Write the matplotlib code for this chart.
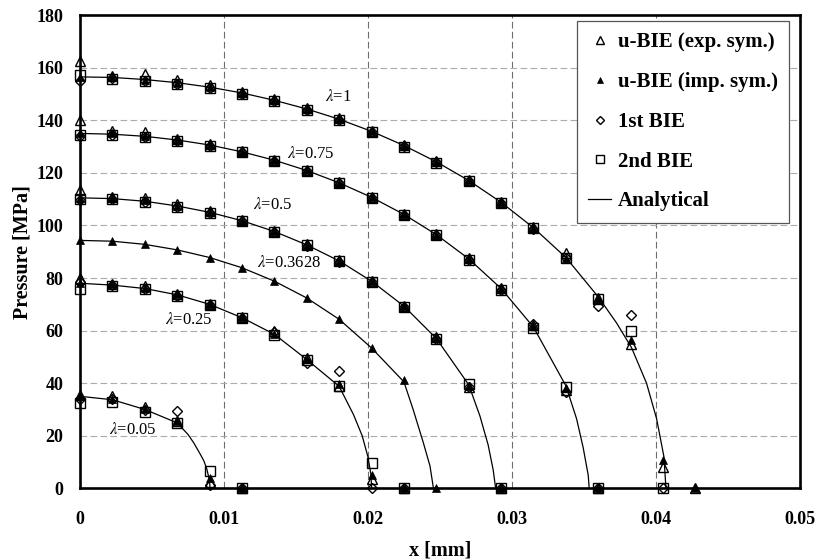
import numpy as np
import matplotlib
matplotlib.use("Agg")
import matplotlib.pyplot as plt
from matplotlib.lines import Line2D


# boundary nodes along the contact (mm)
X_NODES = [0.0, 0.00225, 0.0045, 0.00675, 0.009, 0.01125, 0.0135, 0.01575,
           0.018, 0.02025, 0.0225, 0.02475, 0.027, 0.02925, 0.0315, 0.03375,
           0.036, 0.03825, 0.0405, 0.04275]

# lambda = 1
EXP_L1 = [162.5, 157.0, 157.5, 155.5, 153.3, 150.8, 148.0, 144.6, 140.7, 136.0,
          130.6, 124.4, 117.3, 109.0, 99.5, 89.5, 72.5, 55.0, 8.0, 0.0]
IMP_L1 = [156.5, 156.3, 155.5, 154.3, 152.6, 150.4, 147.6, 144.3, 140.4, 135.8,
          130.4, 124.2, 117.1, 108.8, 99.1, 87.8, 72.5, 56.5, 10.8, 0.0]
BIE1_L1 = [154.8, 156.0, 155.0, 153.8, 152.2, 150.0, 147.3, 144.0, 140.2, 135.6,
           130.2, 124.0, 116.9, 108.5, 98.8, 87.5, 69.5, 66.0, 0.0]
BIE2_L1 = [157.2, 155.8, 155.0, 153.8, 152.2, 150.0, 147.2, 143.9, 140.0, 135.4,
           130.0, 123.8, 116.8, 108.6, 98.9, 87.6, 72.0, 60.0, 0.0]
AN_X_L1 = [0.0, 0.00225, 0.0045, 0.00675, 0.009, 0.01125, 0.0135, 0.01575, 0.018,
           0.02025, 0.0225, 0.02475, 0.027, 0.02925, 0.0315, 0.03375, 0.036,
           0.03727, 0.03831, 0.03935, 0.04005, 0.04056, 0.0407]
AN_P_L1 = [156.5, 156.3, 155.5, 154.3, 152.6, 150.4, 147.6, 144.3, 140.4, 135.8,
           130.4, 124.2, 117.1, 108.8, 99.1, 87.8, 72.8, 62.9, 53.5, 40.0, 26.5,
           12.0, 0.0]

# lambda = 0.75
EXP_L075 = [140.0, 136.0, 135.5, 133.0, 131.0, 128.3, 125.0, 121.2, 116.5,
            111.0, 104.4, 96.7, 87.6, 76.3, 62.0, 37.5, 0.0]
IMP_L075 = [135.0, 135.2, 134.2, 132.6, 130.6, 128.0, 124.8, 120.9, 116.2,
            110.7, 104.2, 96.5, 87.3, 76.0, 61.6, 38.0, 0.0]
BIE1_L075 = [134.0, 134.5, 133.5, 132.2, 130.4, 127.8, 124.6, 120.7, 116.0,
             110.5, 104.0, 96.3, 87.0, 75.5, 62.5, 36.5, 0.0]
BIE2_L075 = [134.5, 134.4, 133.6, 132.3, 130.4, 127.8, 124.6, 120.7, 116.0,
             110.5, 104.0, 96.3, 87.0, 75.6, 61.0, 38.5, 0.0]
AN_X_L075 = [0.0, 0.00225, 0.0045, 0.00675, 0.009, 0.01125, 0.0135, 0.01575,
             0.018, 0.02025, 0.0225, 0.02475, 0.027, 0.02925, 0.0315, 0.03375,
             0.03449, 0.03495, 0.0353, 0.03537]
AN_P_L075 = [135.0, 134.7, 133.9, 132.5, 130.6, 128.0, 124.8, 120.9, 116.2,
             110.7, 104.2, 96.5, 87.3, 76.0, 61.3, 39.0, 26.5, 15.5, 5.0, 0.0]

# lambda = 0.5
EXP_L05 = [113.5, 111.0, 110.5, 108.0, 105.3, 102.0, 98.0, 92.8, 86.8, 79.0,
           69.5, 57.5, 38.5, 0.0]
IMP_L05 = [110.5, 110.5, 109.5, 107.4, 105.0, 101.8, 97.7, 92.6, 86.5, 78.8,
           69.3, 57.1, 39.0, 0.0]
BIE1_L05 = [109.5, 110.0, 109.0, 107.0, 104.7, 101.5, 97.4, 92.3, 86.2, 78.5,
            69.0, 56.8, 38.5, 0.0]
BIE2_L05 = [110.0, 110.0, 109.0, 107.2, 104.8, 101.6, 97.5, 92.4, 86.3, 78.6,
            69.1, 56.9, 39.5, 0.0]
AN_X_L05 = [0.0, 0.00225, 0.0045, 0.00675, 0.009, 0.01125, 0.0135, 0.01575,
            0.018, 0.02025, 0.0225, 0.02475, 0.027, 0.02778, 0.02835, 0.0287,
            0.02887]
AN_P_L05 = [110.5, 110.2, 109.2, 107.4, 105.0, 101.8, 97.7, 92.6, 86.5, 78.8,
            69.3, 57.0, 39.4, 27.5, 16.5, 7.0, 0.0]

# lambda = 0.3628 (implicit symmetry only)
IMP_L03628 = [94.3, 94.0, 92.8, 90.7, 87.8, 83.9, 78.8, 72.4, 64.3, 53.4,
              41.2, 0.0]
AN_X_L03628 = [0.0, 0.00225, 0.0045, 0.00675, 0.009, 0.01125, 0.0135, 0.01575,
               0.018, 0.02025, 0.0225, 0.02315, 0.02384, 0.02431, 0.02455]
AN_P_L03628 = [94.3, 94.0, 92.8, 90.7, 87.8, 83.9, 78.8, 72.4, 64.3, 53.4,
               40.5, 29.8, 17.5, 8.5, 0.0]

# lambda = 0.25
EXP_L025 = [80.0, 77.8, 76.8, 74.0, 70.3, 65.2, 59.8, 49.5, 39.0, 3.5, 0.0]
IMP_L025 = [78.0, 77.8, 76.3, 73.8, 70.1, 65.0, 58.8, 49.2, 39.5, 5.0, 0.0]
BIE1_L025 = [78.5, 77.3, 75.8, 73.3, 69.8, 64.7, 59.5, 47.6, 44.7, 0.0, 0.0]
BIE2_L025 = [76.0, 76.8, 75.8, 73.3, 69.8, 64.7, 58.4, 48.8, 38.9, 9.5, 0.0]
AN_X_L025 = [0.0, 0.00225, 0.0045, 0.00675, 0.009, 0.01125, 0.0135, 0.01575,
             0.018, 0.019, 0.0196, 0.0200, 0.0202, 0.02026]
AN_P_L025 = [78.0, 77.3, 76.0, 73.6, 70.0, 64.9, 58.6, 49.0, 38.8, 28.0, 20.0,
             12.0, 5.5, 0.0]

# lambda = 0.05
EXP_L005 = [35.5, 35.3, 30.8, 25.5, 2.5, 0.0]
IMP_L005 = [35.0, 34.0, 30.3, 25.6, 3.8, 0.0]
BIE1_L005 = [34.0, 33.8, 29.8, 29.4, 1.2, 0.0]
BIE2_L005 = [32.5, 33.0, 29.2, 24.8, 6.6, 0.0]
AN_X_L005 = [0.0, 0.00225, 0.0045, 0.00675, 0.0075, 0.0079, 0.0083, 0.0086,
             0.0088, 0.0090, 0.00903]
AN_P_L005 = [35.0, 33.7, 30.0, 24.9, 20.5, 17.3, 13.5, 10.5, 7.5, 3.0, 0.0]

LAMBDA_LABELS = ["1", "0.75", "0.5", "0.3628", "0.25", "0.05"]


def plot_markers(ax, values, **style):
    x = X_NODES[:len(values)]
    ax.plot(x, values, linestyle="none", clip_on=False, zorder=4, **style)


def main():
    plt.rcParams["font.family"] = ["Liberation Serif", "DejaVu Serif"]
    plt.rcParams["mathtext.fontset"] = "stix"
    plt.rcParams["axes.linewidth"] = 1.9

    fig = plt.figure(figsize=(8.18, 5.6), dpi=100)
    ax = fig.add_axes([0.0978, 0.128, 0.880, 0.845])

    analytical = [
        (AN_X_L1, AN_P_L1), (AN_X_L075, AN_P_L075), (AN_X_L05, AN_P_L05),
        (AN_X_L03628, AN_P_L03628), (AN_X_L025, AN_P_L025), (AN_X_L005, AN_P_L005),
    ]
    for xs, ps in analytical:
        ax.plot(xs, ps, color="black", linewidth=0.9, zorder=3)

    sq = dict(marker="s", markersize=7, markerfacecolor="none",
              markeredgecolor="black", markeredgewidth=1.0)
    dm = dict(marker="D", markersize=5.2, markerfacecolor="none",
              markeredgecolor="black", markeredgewidth=1.0)
    tri_o = dict(marker="^", markersize=7.5, markerfacecolor="none",
                 markeredgecolor="black", markeredgewidth=1.0)
    tri_f = dict(marker="^", markersize=5.5, color="black",
                 markeredgewidth=0.5)

    for vals in (BIE2_L1, BIE2_L075, BIE2_L05, BIE2_L025, BIE2_L005):
        plot_markers(ax, vals, **sq)
    for vals in (BIE1_L1, BIE1_L075, BIE1_L05, BIE1_L025, BIE1_L005):
        plot_markers(ax, vals, **dm)
    for vals in (EXP_L1, EXP_L075, EXP_L05, EXP_L025, EXP_L005):
        plot_markers(ax, vals, **tri_o)
    for vals in (IMP_L1, IMP_L075, IMP_L05, IMP_L03628, IMP_L025, IMP_L005):
        plot_markers(ax, vals, **tri_f)

    # curve labels
    label_pos = [(0.0170, 149.0), (0.0144, 127.0), (0.0120, 107.7),
                 (0.0123, 85.7), (0.0059, 64.0), (0.0020, 22.2)]
    for lab, (tx, ty) in zip(LAMBDA_LABELS, label_pos):
        ax.text(tx, ty, r"$\lambda$=" + lab, fontsize=12, ha="left",
                va="center", zorder=5)

    ax.set_xlim(0, 0.05)
    ax.set_ylim(0, 180)
    ax.set_xticks(np.arange(0, 0.051, 0.01))
    ax.set_xticklabels(["0", "0.01", "0.02", "0.03", "0.04", "0.05"])
    ax.set_yticks(np.arange(0, 181, 20))

    ax.xaxis.grid(True, color="#6e6e6e", linestyle=(0, (6, 3)), linewidth=0.8)
    ax.yaxis.grid(True, color="#ababab", linestyle=(0, (6, 3)), linewidth=0.8)
    ax.set_axisbelow(True)

    ax.tick_params(axis="both", length=0, labelsize=13)
    ax.tick_params(axis="x", pad=16)
    ax.tick_params(axis="y", pad=12)
    for lbl in ax.get_xticklabels() + ax.get_yticklabels():
        lbl.set_fontweight("bold")

    ax.set_xlabel("x [mm]", fontsize=14.5, fontweight="bold")
    ax.set_ylabel("Pressure [MPa]", fontsize=14.5, fontweight="bold")
    ax.xaxis.set_label_coords(0.5, -0.11)
    ax.yaxis.set_label_coords(-0.066, 0.5)

    handles = [
        Line2D([], [], linestyle="none", **tri_o),
        Line2D([], [], linestyle="none", **tri_f),
        Line2D([], [], linestyle="none", **dm),
        Line2D([], [], linestyle="none", **sq),
        Line2D([], [], color="black", linewidth=0.9),
    ]
    labels = ["u-BIE (exp. sym.)", "u-BIE (imp. sym.)", "1st BIE", "2nd BIE",
              "Analytical"]
    leg = ax.legend(handles, labels, loc="upper right",
                    bbox_to_anchor=(0.985, 0.988), borderaxespad=0,
                    prop={"weight": "bold", "size": 15}, fancybox=False,
                    framealpha=1, edgecolor="#555555", markerscale=0.8,
                    handlelength=1.1, handletextpad=0.3, labelspacing=0.95,
                    borderpad=0.55)
    leg.get_frame().set_linewidth(0.9)
    leg.set_zorder(6)

    fig.savefig("out.png", dpi=100)
    plt.close(fig)


if __name__ == "__main__":
    main()
